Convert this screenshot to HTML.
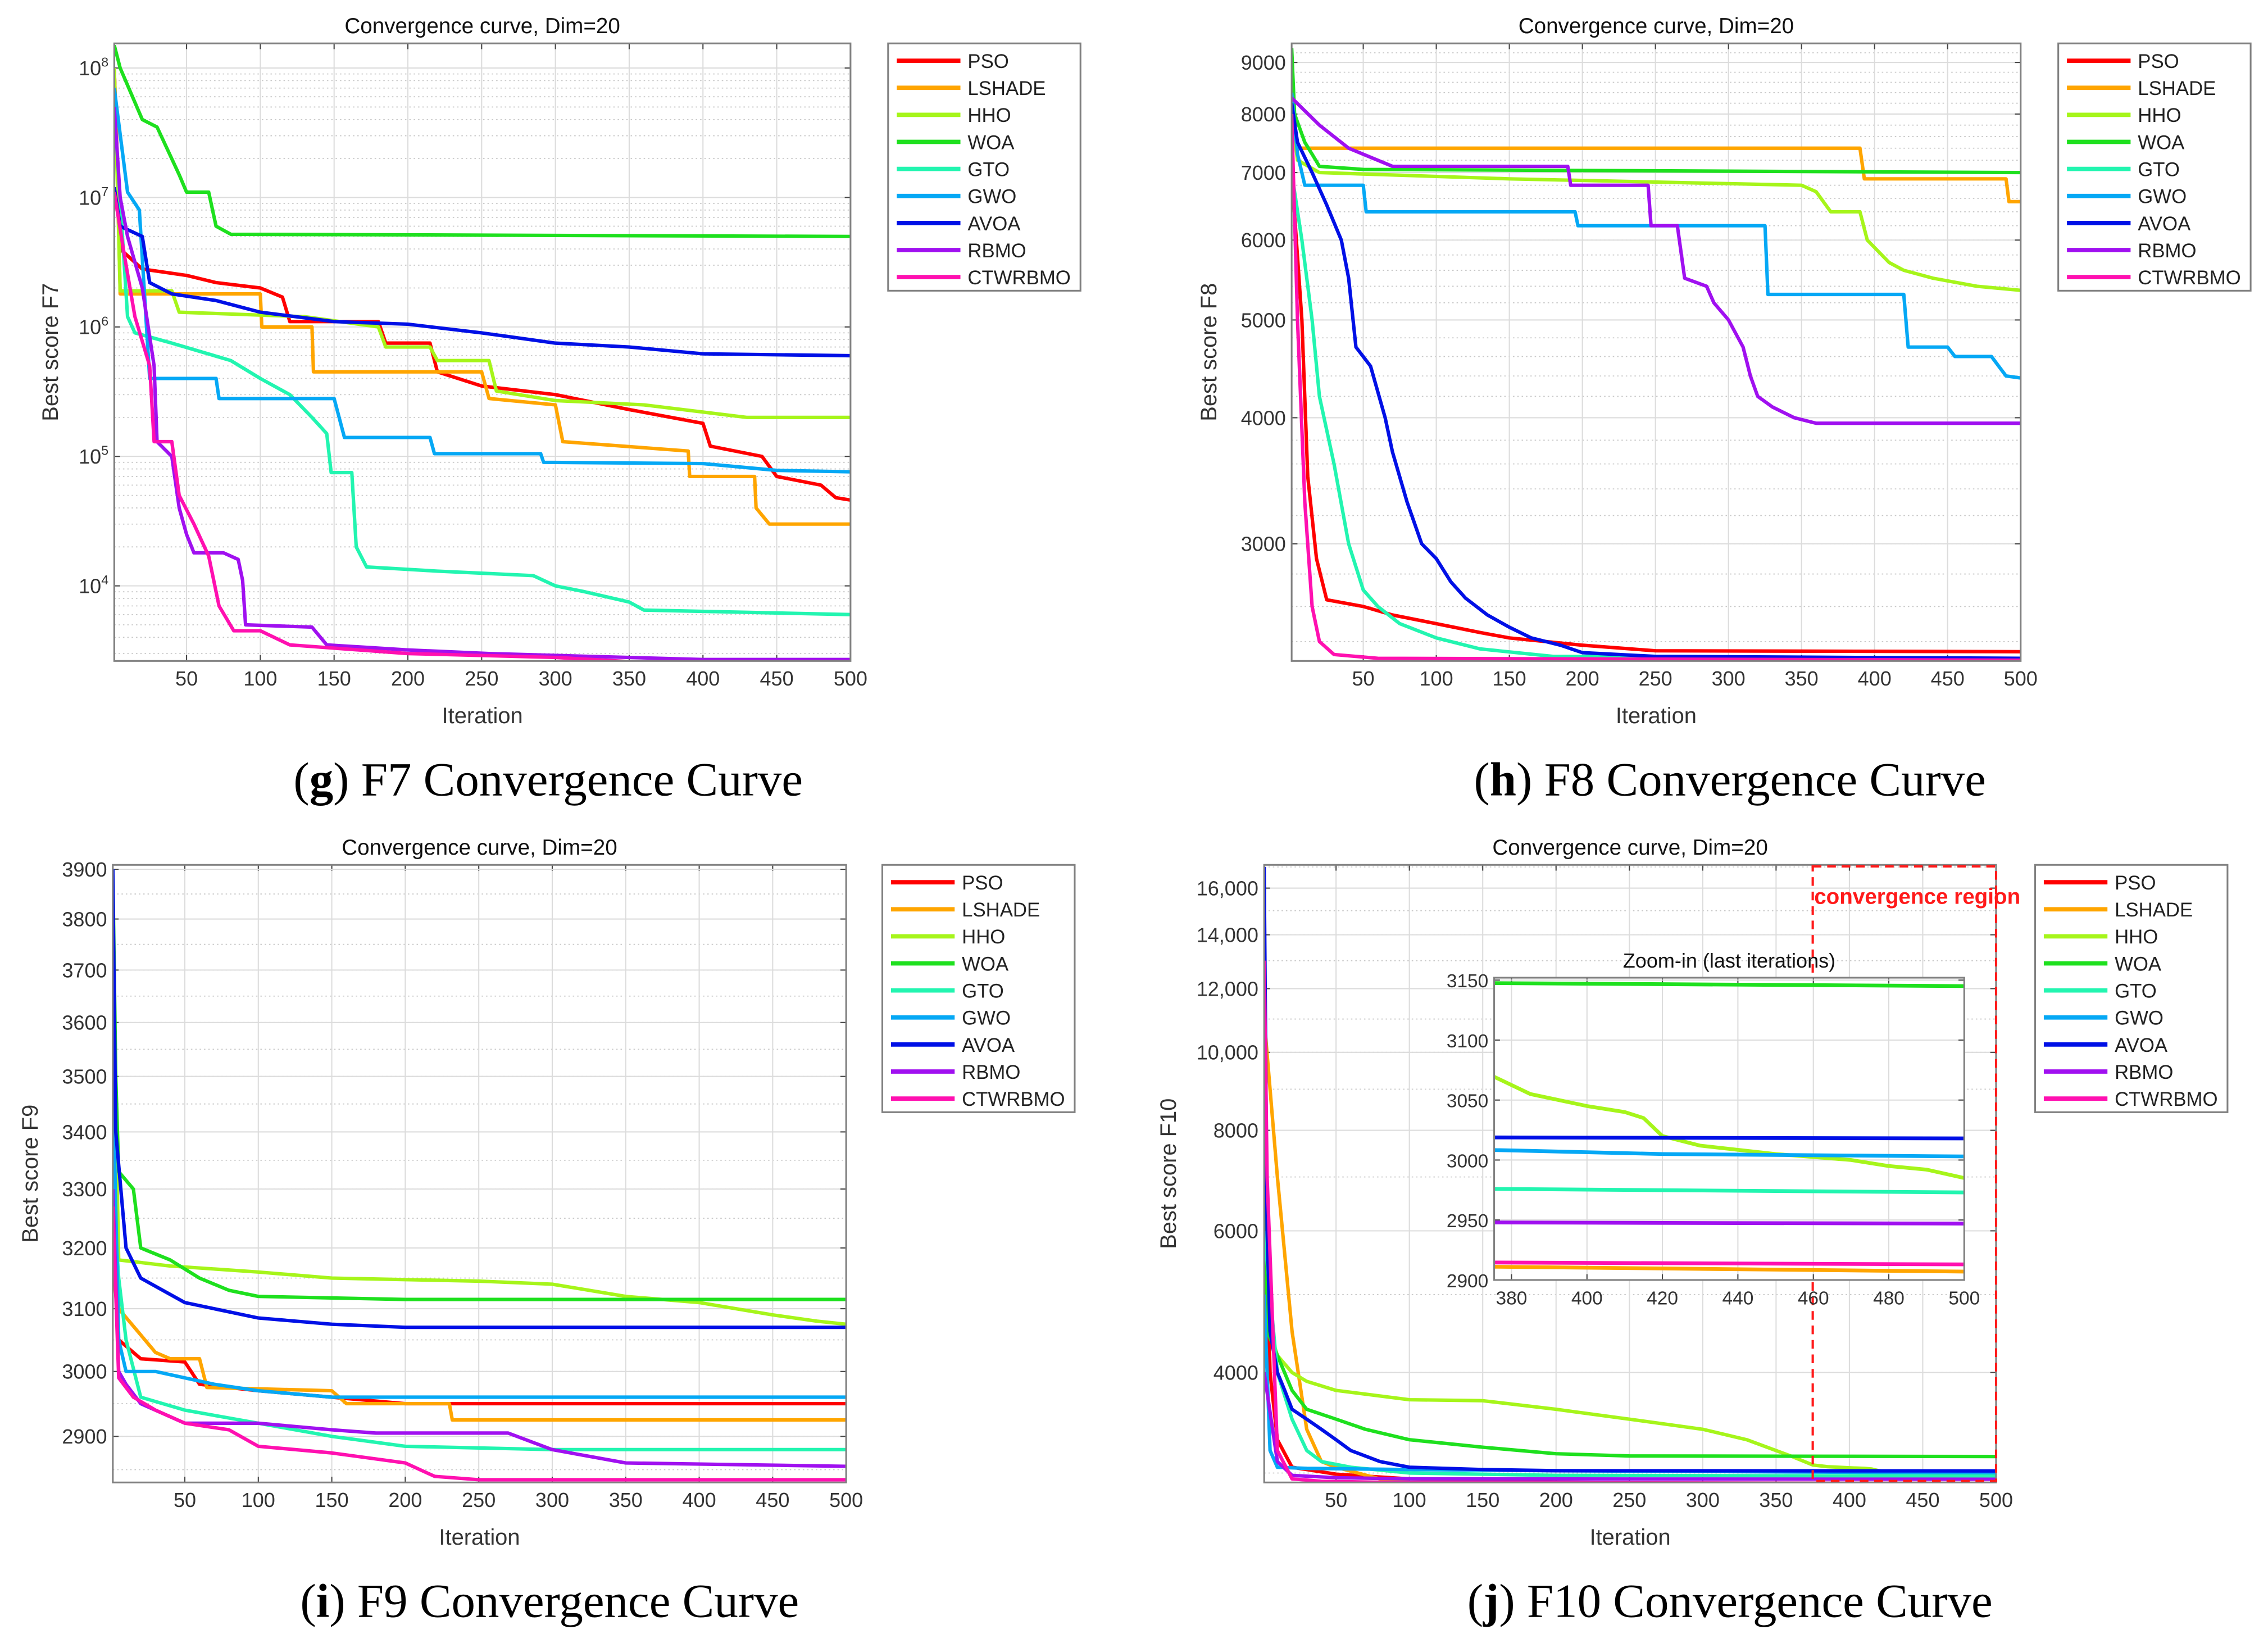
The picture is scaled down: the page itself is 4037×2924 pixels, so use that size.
<!DOCTYPE html>
<html><head><meta charset="utf-8"><style>
html,body{margin:0;padding:0;background:#fff;}
svg{display:block;}
text{font-family:"Liberation Sans",sans-serif;}
.cap{font-family:"Liberation Serif",serif;font-size:33px;}
</style></head><body>
<svg id="root" width="4037" height="2924" viewBox="0 0 1568 1136" preserveAspectRatio="none" xmlns="http://www.w3.org/2000/svg">
<rect width="1568" height="1136" fill="#fff"/>
<text class="cap" x="379" y="550" text-anchor="middle">(<tspan font-weight="bold">g</tspan>) F7 Convergence Curve</text>
<text class="cap" x="1196" y="550" text-anchor="middle">(<tspan font-weight="bold">h</tspan>) F8 Convergence Curve</text>
<text class="cap" x="380" y="1118" text-anchor="middle">(<tspan font-weight="bold">i</tspan>) F9 Convergence Curve</text>
<text class="cap" x="1196" y="1118" text-anchor="middle">(<tspan font-weight="bold">j</tspan>) F10 Convergence Curve</text>
</svg>
<script>
const names = ["PSO","LSHADE","HHO","WOA","GTO","GWO","AVOA","RBMO","CTWRBMO"];
const colors = ["#ff0000","#ffa500","#a6f51a","#1ee01e","#22f5b0","#05a8f5","#0010e6","#a010f0","#ff10b0"];
const xTicks = [50,100,150,200,250,300,350,400,450,500];

// ---- F7 data [iteration, value]
const g_PSO=[[1,1e8],[5,4e6],[20,2.8e6],[50,2.5e6],[70,2.2e6],[100,2e6],[115,1.7e6],[120,1.1e6],[180,1.1e6],[185,7.5e5],[215,7.5e5],[220,4.5e5],[250,3.5e5],[300,3e5],[350,2.3e5],[400,1.8e5],[405,1.2e5],[440,1e5],[450,7e4],[480,6e4],[490,4.8e4],[500,4.6e4]];
const g_LSHADE=[[1,1e8],[3,1.8e7],[5,1.8e6],[100,1.8e6],[101,1e6],[135,1e6],[136,4.5e5],[250,4.5e5],[255,2.8e5],[300,2.5e5],[305,1.3e5],[390,1.1e5],[391,7e4],[435,7e4],[436,4e4],[445,3e4],[500,3e4]];
const g_HHO=[[1,1e8],[5,1.9e6],[40,1.9e6],[45,1.3e6],[130,1.2e6],[180,1e6],[185,7e5],[215,7e5],[220,5.5e5],[255,5.5e5],[260,3.2e5],[300,2.7e5],[360,2.5e5],[400,2.2e5],[430,2e5],[500,2e5]];
const g_WOA=[[1,1.5e8],[5,1e8],[20,4e7],[30,3.5e7],[45,1.5e7],[50,1.1e7],[65,1.1e7],[70,6e6],[80,5.2e6],[500,5e6]];
const g_GTO=[[1,5e7],[10,1.2e6],[15,9e5],[40,7.5e5],[80,5.5e5],[100,4e5],[120,3e5],[135,2e5],[145,1.5e5],[148,7.5e4],[162,7.5e4],[165,2e4],[172,1.4e4],[220,1.3e4],[285,1.2e4],[300,1e4],[320,9e3],[350,7.5e3],[360,6.5e3],[500,6e3]];
const g_GWO=[[1,7e7],[10,1.1e7],[18,8e6],[25,4e5],[70,4e5],[72,2.8e5],[150,2.8e5],[157,1.4e5],[215,1.4e5],[218,1.05e5],[290,1.05e5],[292,9e4],[400,8.8e4],[450,7.8e4],[500,7.6e4]];
const g_AVOA=[[1,1.2e7],[5,6e6],[20,5e6],[25,2.2e6],[40,1.8e6],[70,1.6e6],[100,1.3e6],[150,1.1e6],[200,1.05e6],[250,9e5],[300,7.5e5],[350,7e5],[400,6.2e5],[500,6e5]];
const g_RBMO=[[1,5e7],[5,1e7],[10,5e6],[20,2e6],[28,5e5],[30,1.3e5],[40,1e5],[45,4e4],[50,2.5e4],[55,1.8e4],[75,1.8e4],[85,1.6e4],[88,1.1e4],[90,5e3],[135,4.8e3],[145,3.5e3],[200,3.2e3],[255,3e3],[350,2.8e3],[400,2.7e3],[500,2.7e3]];
const g_CTWRBMO=[[1,1.1e7],[8,3.5e6],[15,1.2e6],[25,5e5],[28,1.3e5],[40,1.3e5],[45,5e4],[55,3e4],[65,1.7e4],[72,7e3],[82,4.5e3],[100,4.5e3],[120,3.5e3],[200,3e3],[300,2.8e3],[350,2.6e3],[500,2.6e3]];
const g_yTicks=[1e4,1e5,1e6,1e7,1e8];
const g_yLabels=["4","5","6","7","8"];

// ---- F8 data
const h_PSO=[[1,7000],[8,5000],[12,3500],[18,2900],[25,2640],[50,2600],[70,2550],[100,2500],[130,2450],[150,2420],[200,2380],[250,2350],[500,2345]];
const h_LSHADE=[[1,8000],[5,7400],[390,7400],[393,6900],[490,6900],[492,6550],[500,6550]];
const h_HHO=[[1,8000],[5,7200],[20,7000],[150,6900],[350,6800],[360,6700],[370,6400],[390,6400],[395,6000],[410,5700],[420,5600],[440,5500],[470,5400],[500,5350]];
const h_WOA=[[1,9300],[3,8000],[10,7500],[15,7300],[20,7100],[50,7050],[500,7000]];
const h_GTO=[[1,7000],[8,6000],[15,5000],[20,4200],[30,3600],[40,3000],[50,2700],[60,2600],[75,2500],[100,2420],[130,2360],[180,2320],[500,2305]];
const h_GWO=[[1,8400],[5,7300],[10,6800],[50,6800],[52,6400],[195,6400],[197,6200],[325,6200],[327,5300],[420,5300],[423,4700],[450,4700],[455,4600],[480,4600],[490,4400],[500,4380]];
const h_AVOA=[[1,8200],[5,7500],[15,7000],[25,6500],[35,6000],[40,5500],[45,4700],[55,4500],[65,4000],[70,3700],[80,3300],[90,3000],[100,2900],[110,2750],[120,2650],[135,2550],[150,2480],[165,2420],[185,2380],[200,2340],[250,2320],[500,2310]];
const h_RBMO=[[1,8300],[20,7800],[40,7400],[70,7100],[190,7100],[192,6800],[245,6800],[247,6200],[265,6200],[270,5500],[285,5400],[290,5200],[300,5000],[310,4700],[315,4400],[320,4200],[330,4100],[345,4000],[360,3950],[500,3950]];
const h_CTWRBMO=[[1,8000],[5,5000],[10,3300],[15,2600],[20,2400],[30,2330],[60,2310],[500,2300]];
const h_yTicks=[3000,4000,5000,6000,7000,8000,9000];

// ---- F9 data
const i_PSO=[[1,3200],[5,3050],[10,3040],[20,3020],[50,3015],[60,2980],[100,2970],[150,2960],[200,2950],[500,2950]];
const i_LSHADE=[[1,3300],[5,3100],[30,3030],[40,3020],[60,3020],[65,2975],[150,2970],[160,2950],[230,2950],[232,2925],[500,2925]];
const i_HHO=[[1,3700],[5,3180],[40,3170],[100,3160],[150,3150],[250,3145],[300,3140],[350,3120],[400,3110],[450,3090],[480,3080],[500,3075]];
const i_WOA=[[1,3900],[3,3500],[5,3330],[15,3300],[20,3200],[40,3180],[60,3150],[80,3130],[100,3120],[200,3115],[500,3115]];
const i_GTO=[[1,3300],[5,3150],[10,3050],[20,2960],[50,2940],[100,2920],[150,2900],[200,2885],[300,2880],[500,2880]];
const i_GWO=[[1,3500],[5,3050],[10,3000],[30,3000],[70,2980],[100,2970],[150,2960],[500,2960]];
const i_AVOA=[[1,3900],[3,3400],[10,3200],[20,3150],[50,3110],[100,3085],[150,3075],[200,3070],[500,3070]];
const i_RBMO=[[1,3300],[5,3000],[10,2980],[20,2950],[50,2920],[100,2920],[150,2910],[180,2905],[270,2905],[300,2880],[350,2860],[500,2855]];
const i_CTWRBMO=[[1,3270],[5,2990],[15,2960],[30,2940],[50,2920],[80,2910],[100,2885],[150,2875],[200,2860],[220,2840],[250,2835],[500,2835]];
const i_yTicks=[2900,3000,3100,3200,3300,3400,3500,3600,3700,3800,3900];

// ---- F10 data
const j_PSO=[[1,8000],[5,4000],[10,3300],[20,3050],[50,2990],[100,2950],[200,2920],[500,2880]];
const j_LSHADE=[[1,11000],[5,9000],[10,7000],[20,4500],[30,3400],[40,3100],[50,3050],[80,2950],[100,2920],[500,2907]];
const j_HHO=[[1,5000],[5,4500],[10,4200],[20,4000],[30,3900],[50,3800],[100,3700],[150,3690],[200,3600],[250,3500],[300,3400],[330,3300],[360,3150],[375,3070],[385,3055],[400,3045],[410,3040],[415,3035],[420,3020],[430,3012],[450,3005],[470,3000],[480,2995],[490,2992],[500,2985]];
const j_WOA=[[1,7000],[3,4500],[10,4200],[20,3800],[30,3600],[50,3500],[70,3400],[100,3300],[150,3230],[200,3170],[250,3150],[500,3145]];
const j_GTO=[[1,6000],[10,4000],[20,3500],[30,3200],[40,3100],[60,3050],[100,3000],[200,2980],[500,2973]];
const j_GWO=[[1,5000],[5,3200],[10,3050],[30,3040],[100,3030],[200,3020],[380,3008],[420,3005],[500,3003]];
const j_AVOA=[[1,17000],[3,6000],[5,4500],[10,4000],[15,3800],[20,3600],[30,3500],[40,3400],[50,3300],[60,3200],[80,3100],[100,3050],[150,3030],[200,3020],[500,3018]];
const j_RBMO=[[1,4000],[10,3100],[20,2980],[50,2960],[100,2950],[500,2947]];
const j_CTWRBMO=[[1,13000],[3,7000],[10,3200],[20,2950],[40,2930],[100,2918],[500,2913]];
const j_yTicks=[4000,6000,8000,10000,12000,14000,16000];
const j_yLabels=["4000","6000","8000","10,000","12,000","14,000","16,000"];
const inset_xTicks=[380,400,420,440,460,480,500];
const inset_yTicks=[2900,2950,3000,3050,3100,3150];

const NS="http://www.w3.org/2000/svg";
const root=document.getElementById('root');
function mk(tag,attrs,parent){const e=document.createElementNS(NS,tag);for(const k in attrs)e.setAttribute(k,attrs[k]);(parent||root).appendChild(e);return e;}
function lin(d0,d1,r0,r1){return v=>r0+(v-d0)/(d1-d0)*(r1-r0);}
function logs(d0,d1,r0,r1){const a=Math.log10(d0),b=Math.log10(d1);return v=>r0+(Math.log10(v)-a)/(b-a)*(r1-r0);}

function panel(p){
  const g=mk('g',{});
  
  
  const X=lin(p.xd[0],p.xd[1],p.L,p.R);
  const Y=(p.log?logs:lin)(p.yd[0],p.yd[1],p.B,p.T);
  mk('rect',{x:p.L,y:p.T,width:p.R-p.L,height:p.B-p.T,fill:'#fff'},g);
  const cp='clip-'+p.id;
  const cl=mk('clipPath',{id:cp},g);mk('rect',{x:p.L,y:p.T,width:p.R-p.L,height:p.B-p.T},cl);
  if(p.minor){p.minor.forEach(v=>{const y=Y(v);if(y>p.T&&y<p.B)mk('line',{x1:p.L,x2:p.R,y1:y,y2:y,stroke:'#c8c8c8','stroke-width':0.7,'stroke-dasharray':'1,2'},g);});}
  p.xt.forEach(v=>{const x=X(v);const l=mk('line',{x1:x,x2:x,y1:p.T,y2:p.B,stroke:'#dcdcdc','stroke-width':0.8},g);
    mk('line',{x1:x,x2:x,y1:p.B,y2:p.B-4,stroke:'#444','stroke-width':0.8},g);mk('line',{x1:x,x2:x,y1:p.T,y2:p.T+4,stroke:'#444','stroke-width':0.8},g);
    const t=mk('text',{x:x,y:p.B+17,'text-anchor':'middle','font-size':p.fs||14,fill:'#333'},g);t.textContent=v;});
  p.yt.forEach((v,k)=>{const y=Y(v);const l=mk('line',{x1:p.L,x2:p.R,y1:y,y2:y,stroke:'#dcdcdc','stroke-width':0.8},g);
    mk('line',{x1:p.L,x2:p.L+4,y1:y,y2:y,stroke:'#444','stroke-width':0.8},g);mk('line',{x1:p.R,x2:p.R-4,y1:y,y2:y,stroke:'#444','stroke-width':0.8},g);
    const t=mk('text',{x:p.L-4,y:y+5,'text-anchor':'end','font-size':p.fs||14,fill:'#333'},g);
    if(p.exp){t.textContent='10';const s=mk('tspan',{dy:-6,'font-size':9},t);s.textContent=p.exp[k];}
    else t.textContent=p.yl?p.yl[k]:v;
    });
  const sg=mk('g',{'clip-path':'url(#'+cp+')'},g);
  p.series.forEach((s,k)=>{const pts=s.map(d=>X(d[0]).toFixed(2)+','+Y(d[1]).toFixed(2)).join(' ');
    const pl=mk('polyline',{points:pts,fill:'none',stroke:colors[k],'stroke-width':p.lw||2.4,'stroke-linejoin':'round'},sg);
    });
  mk('rect',{x:p.L,y:p.T,width:p.R-p.L,height:p.B-p.T,fill:'none',stroke:'#808080','stroke-width':1.2},g);
  if(p.title){const t=mk('text',{x:(p.L+p.R)/2,y:p.T-7,'text-anchor':'middle','font-size':p.tfs||15,fill:'#111'},g);t.textContent=p.title;}
  if(p.xlab){const t=mk('text',{x:(p.L+p.R)/2,y:p.B+43,'text-anchor':'middle','font-size':15.5,fill:'#333'},g);t.textContent=p.xlab;}
  if(p.ylab){const cx=p.ylx,cy=(p.T+p.B)/2;const t=mk('text',{x:cx,y:cy,'text-anchor':'middle','font-size':15.5,fill:'#333',transform:'rotate(-90 '+cx+' '+cy+')'},g);t.textContent=p.ylab;}
  if(p.leg){const [lx,ly]=p.leg;const lg=mk('g',{},g);
    mk('rect',{x:lx,y:ly,width:133,height:171,fill:'#fff',stroke:'#808080','stroke-width':1.2},lg);
    names.forEach((n,k)=>{const y=ly+12+k*18.7;mk('line',{x1:lx+6,x2:lx+50,y1:y,y2:y,stroke:colors[k],'stroke-width':3},lg);
      const t=mk('text',{x:lx+55,y:y+5,'font-size':13.5,fill:'#222'},lg);t.textContent=n;});}
  return {X,Y,g};
}
function minorLog(a,b){const r=[];for(let e=a;e<=b;e++)for(let m=2;m<=9;m++)r.push(m*Math.pow(10,e));return r;}
function minorLin(a,b,s){const r=[];for(let v=a;v<=b;v+=s)r.push(v);return r;}

panel({id:'f7',L:79,R:588,T:30,B:457,xd:[1,500],yd:[2630,1.55e8],log:true,xt:xTicks,yt:g_yTicks,exp:g_yLabels,minor:minorLog(3,8),
  series:[g_PSO,g_LSHADE,g_HHO,g_WOA,g_GTO,g_GWO,g_AVOA,g_RBMO,g_CTWRBMO],title:'Convergence curve, Dim=20',xlab:'Iteration',ylab:'Best score F7',ylx:40,leg:[614,30]});
panel({id:'f8',L:893,R:1397,T:30,B:457,xd:[1,500],yd:[2296,9400],log:true,xt:xTicks,yt:h_yTicks,minor:minorLin(2400,9400,200),
  series:[h_PSO,h_LSHADE,h_HHO,h_WOA,h_GTO,h_GWO,h_AVOA,h_RBMO,h_CTWRBMO],title:'Convergence curve, Dim=20',xlab:'Iteration',ylab:'Best score F8',ylx:841,leg:[1423,30]});
panel({id:'f9',L:78,R:585,T:598,B:1025,xd:[1,500],yd:[2831,3909],log:true,xt:xTicks,yt:i_yTicks,minor:minorLin(2850,3900,50),
  series:[i_PSO,i_LSHADE,i_HHO,i_WOA,i_GTO,i_GWO,i_AVOA,i_RBMO,i_CTWRBMO],title:'Convergence curve, Dim=20',xlab:'Iteration',ylab:'Best score F9',ylx:26,leg:[610,598]});
const J=panel({id:'f10',L:874,R:1380,T:598,B:1025,xd:[1,500],yd:[2920,17100],log:true,xt:xTicks,yt:j_yTicks,yl:j_yLabels,minor:minorLin(3000,17000,1000),
  series:[j_PSO,j_LSHADE,j_HHO,j_WOA,j_GTO,j_GWO,j_AVOA,j_RBMO,j_CTWRBMO],title:'Convergence curve, Dim=20',xlab:'Iteration',ylab:'Best score F10',ylx:813,leg:[1407,598]});
const rx=J.X(375);
const reg=mk('rect',{x:rx,y:599,width:1380-rx,height:425,fill:'none',stroke:'#ff1a1a','stroke-width':1.6,'stroke-dasharray':'6,4'});

const rt=mk('text',{x:rx+1,y:625,'font-size':15,'font-weight':'bold',fill:'#ff1a1a'});rt.textContent='convergence region';

panel({id:'f10-inset',L:1033,R:1358,T:676,B:885,xd:[375.4,500],yd:[2900,3152],log:false,xt:inset_xTicks,yt:inset_yTicks,fs:13,lw:2.6,
  series:[j_PSO,j_LSHADE,j_HHO,j_WOA,j_GTO,j_GWO,j_AVOA,j_RBMO,j_CTWRBMO],title:'Zoom-in (last iterations)',tfs:14});
</script>
</body></html>
